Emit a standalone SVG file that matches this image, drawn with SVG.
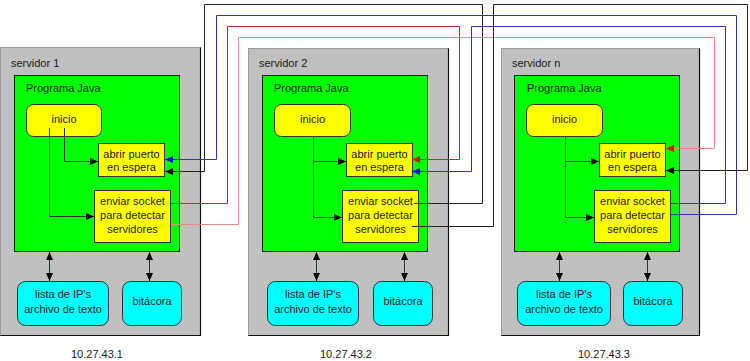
<svg xmlns="http://www.w3.org/2000/svg" width="750" height="361" viewBox="0 0 750 361">
<style>
text{font-family:"Liberation Sans",Arial,sans-serif;font-size:11px;fill:#1a1a1a}
.c{text-anchor:middle}
.srv{fill:#c0c0c0;stroke:#9a9a9a;stroke-width:1}
.edge{fill:none;stroke:#111;stroke-width:1.2}
.java{fill:#00ff00;stroke:#222;stroke-width:1}
.yel{fill:#ffff00;stroke:#333;stroke-width:1}
.cy{fill:#00ffff;stroke:#333;stroke-width:1}
.ln{fill:none;stroke-width:1}
.k{stroke:#222}
.b{stroke:#3535a5}
.r{stroke:#b83030}
.p{stroke:#e48a8a}
.in{fill:none;stroke:#233;stroke-width:1}
</style>
<defs>
<marker id="ak" markerUnits="userSpaceOnUse" markerWidth="9" markerHeight="8" refX="8" refY="4" orient="auto-start-reverse"><path d="M0,0.5 L8,4 L0,7.5 z" fill="#000"/></marker>
<marker id="ab" markerUnits="userSpaceOnUse" markerWidth="9" markerHeight="8" refX="8" refY="4" orient="auto-start-reverse"><path d="M0,0.5 L8,4 L0,7.5 z" fill="#0010e0"/></marker>
<marker id="ar" markerUnits="userSpaceOnUse" markerWidth="9" markerHeight="8" refX="8" refY="4" orient="auto-start-reverse"><path d="M0,0.5 L8,4 L0,7.5 z" fill="#e01010"/></marker>
</defs>

<g id="servidor1">
<rect class="srv" x="0.5" y="47.5" width="200" height="288"/>
<path class="edge" d="M200.5,47.5 V335.5 H0.5"/>
<text x="11" y="67">servidor 1</text>
<g id="java1"><rect class="java" x="14.5" y="75.5" width="165" height="176"/><text x="26" y="92">Programa Java</text></g>
<g id="inicio1"><rect class="yel" x="26.5" y="104.5" width="75" height="32" rx="7"/><text class="c" x="64" y="123">inicio</text></g>
<g id="abrir1"><rect class="yel" x="98.5" y="143.5" width="66" height="33"/><text class="c" x="131.5" y="158">abrir puerto</text><text class="c" x="131.5" y="171">en espera</text></g>
<g id="enviar1"><rect class="yel" x="94.5" y="190.5" width="76" height="52"/><text class="c" x="132.5" y="205">enviar socket</text><text class="c" x="132.5" y="219">para detectar</text><text class="c" x="132.5" y="233">servidores</text></g>
<g id="lista1"><rect class="cy" x="17.5" y="281.5" width="91" height="44" rx="8"/><text class="c" x="63" y="298">lista de IP's</text><text class="c" x="63" y="313">archivo de texto</text></g>
<g id="bitacora1"><rect class="cy" x="122.5" y="281.5" width="59" height="44" rx="8"/><text class="c" x="152" y="305">bitácora</text></g>
</g>

<g id="servidor2">
<rect class="srv" x="248.5" y="48.5" width="200" height="287"/>
<path class="edge" d="M448.5,48.5 V335.5 H248.5"/>
<text x="259" y="67">servidor 2</text>
<g id="java2"><rect class="java" x="262.5" y="75.5" width="165" height="176"/><text x="274" y="92">Programa Java</text></g>
<g id="inicio2"><rect class="yel" x="274.5" y="104.5" width="76" height="32" rx="7"/><text class="c" x="312.5" y="123">inicio</text></g>
<g id="abrir2"><rect class="yel" x="346.5" y="143.5" width="66" height="33"/><text class="c" x="379.5" y="158">abrir puerto</text><text class="c" x="379.5" y="171">en espera</text></g>
<g id="enviar2"><rect class="yel" x="342.5" y="190.5" width="76" height="52"/><text class="c" x="380.5" y="205">enviar socket</text><text class="c" x="380.5" y="219">para detectar</text><text class="c" x="380.5" y="233">servidores</text></g>
<g id="lista2"><rect class="cy" x="267.5" y="281.5" width="91" height="44" rx="8"/><text class="c" x="313" y="298">lista de IP's</text><text class="c" x="313" y="313">archivo de texto</text></g>
<g id="bitacora2"><rect class="cy" x="373.5" y="281.5" width="59" height="44" rx="8"/><text class="c" x="403" y="305">bitácora</text></g>
</g>

<g id="servidorn">
<rect class="srv" x="501.5" y="48.5" width="198" height="287"/>
<path class="edge" d="M699.5,48.5 V335.5 H501.5"/>
<text x="512" y="67">servidor n</text>
<g id="javan"><rect class="java" x="514.5" y="75.5" width="165" height="176"/><text x="527" y="92">Programa Java</text></g>
<g id="inicion"><rect class="yel" x="526.5" y="104.5" width="76" height="32" rx="7"/><text class="c" x="564.5" y="123">inicio</text></g>
<g id="abrirn"><rect class="yel" x="599.5" y="143.5" width="66" height="33"/><text class="c" x="632.5" y="158">abrir puerto</text><text class="c" x="632.5" y="171">en espera</text></g>
<g id="enviarn"><rect class="yel" x="594.5" y="190.5" width="76" height="52"/><text class="c" x="632.5" y="205">enviar socket</text><text class="c" x="632.5" y="219">para detectar</text><text class="c" x="632.5" y="233">servidores</text></g>
<g id="listan"><rect class="cy" x="517.5" y="281.5" width="93" height="44" rx="8"/><text class="c" x="564" y="298">lista de IP's</text><text class="c" x="564" y="313">archivo de texto</text></g>
<g id="bitacoran"><rect class="cy" x="623.5" y="281.5" width="59" height="44" rx="8"/><text class="c" x="653" y="305">bitácora</text></g>
</g>

<g id="ips">
<text class="c" x="97" y="358">10.27.43.1</text>
<text class="c" x="346" y="358">10.27.43.2</text>
<text class="c" x="604" y="358">10.27.43.3</text>
</g>

<g id="connectors">
<path class="in" d="M64.5,128 V161.5 H98" marker-end="url(#ak)"/>
<path class="in" d="M49.5,128 V216.5 H94" marker-end="url(#ak)"/>
<path class="in" d="M313.5,137 V217.5 H342" marker-end="url(#ak)"/>
<path class="in" d="M313.5,161.5 H346" marker-end="url(#ak)"/>
<path class="in" d="M565.5,137 V217.5 H594" marker-end="url(#ak)"/>
<path class="in" d="M565.5,161.5 H599" marker-end="url(#ak)"/>

<path class="in" d="M49.5,252 V281" marker-start="url(#ak)" marker-end="url(#ak)"/>
<path class="in" d="M149.5,252 V281" marker-start="url(#ak)" marker-end="url(#ak)"/>
<path class="in" d="M316.5,252 V281" marker-start="url(#ak)" marker-end="url(#ak)"/>
<path class="in" d="M404.5,252 V281" marker-start="url(#ak)" marker-end="url(#ak)"/>
<path class="in" d="M559.5,252 V281" marker-start="url(#ak)" marker-end="url(#ak)"/>
<path class="in" d="M647.5,252 V281" marker-start="url(#ak)" marker-end="url(#ak)"/>

<path class="ln k" d="M414,203.5 H482.5 V4.5 H204.5 V171.5 H165" marker-end="url(#ak)"/>
<path class="ln b" d="M671,214.5 H736.5 V15.5 H216.5 V159.5 H165" marker-end="url(#ab)"/>
<path class="ln r" d="M171,203.5 H227.5 V26.5 H459.5 V159.5 H412" marker-end="url(#ar)"/>
<path class="ln p" d="M171,224.5 H238.5 V37.5 H714.5 V148.5 H666" marker-end="url(#ar)"/>
<path class="ln b" d="M671,203.5 H725.5 V26.5 H471.5 V171.5 H412" marker-end="url(#ab)"/>
<path class="ln k" d="M412,226.5 H493.5 V4.5 H747.5 V170.5 H666" marker-end="url(#ak)"/>
</g>
</svg>
